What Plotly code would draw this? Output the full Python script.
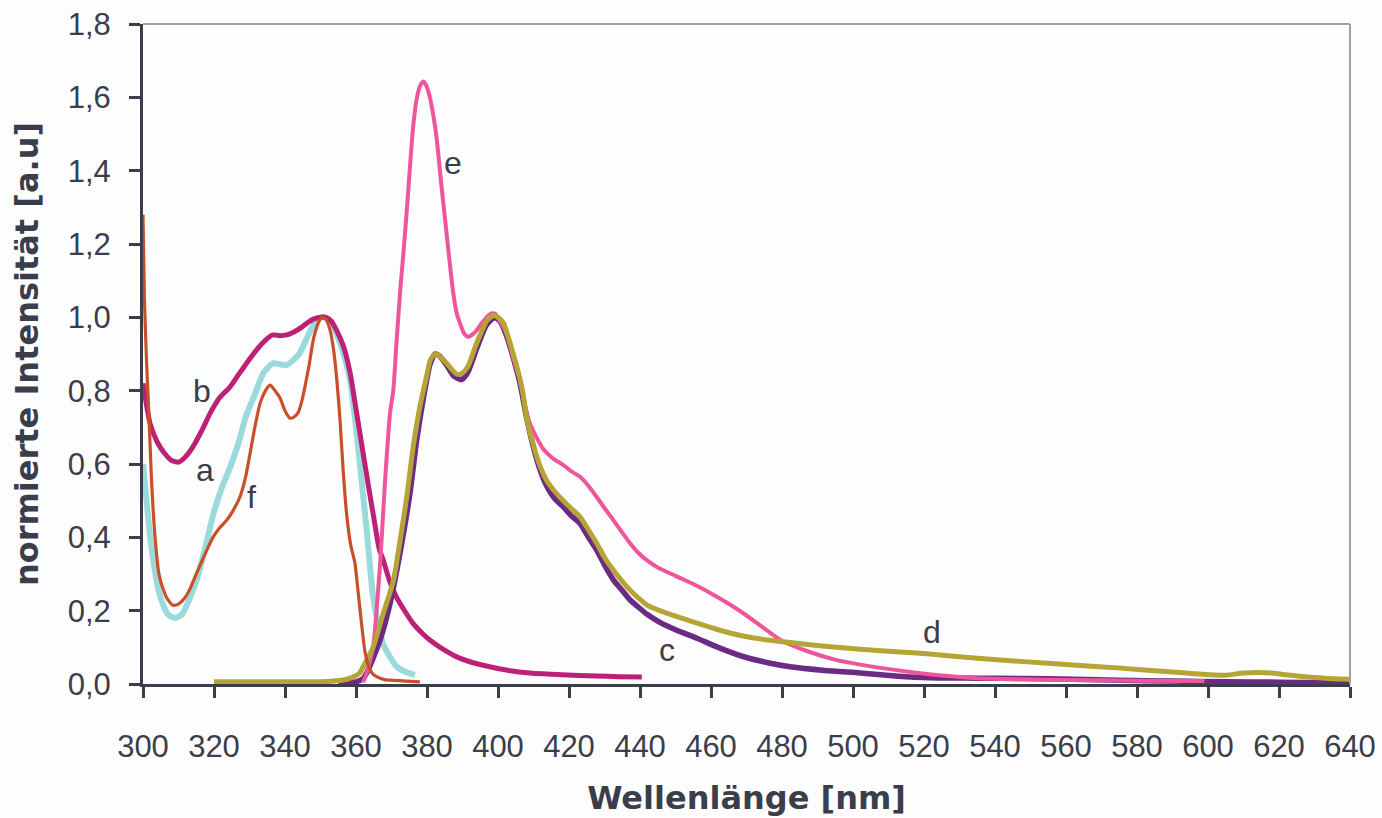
import plotly.graph_objects as go

# ---------------- data ----------------
a_x = [300, 301, 302.4, 304.8, 307, 309, 311, 313, 315, 317.5, 320, 322, 324.5, 327, 329, 331.5,
       334, 336.7, 338.5, 340.5, 342.5, 344, 346, 347.5, 349.5, 351, 352.5, 354.5, 356.5, 358.3,
       360, 361.1, 363, 364.8, 366.5, 367.6, 369.5, 371.5, 374, 376.6]
a_y = [0.60, 0.50, 0.37, 0.24, 0.19, 0.18, 0.19, 0.23, 0.28, 0.37, 0.47, 0.53, 0.59, 0.66, 0.73, 0.79,
       0.85, 0.875, 0.872, 0.87, 0.885, 0.90, 0.94, 0.97, 0.995, 1.0, 0.99, 0.955, 0.90, 0.83,
       0.70, 0.60, 0.42, 0.24, 0.15, 0.11, 0.075, 0.047, 0.033, 0.025]

b_x = [300, 301, 302, 304, 306, 308, 310, 312, 314, 316.5, 319, 321.5, 324.5, 327, 329.2, 331.5,
       334, 336.6, 338.5, 340.5, 342.5, 344.2, 346, 348, 350, 351.5, 353, 354.5, 356.5, 358.3,
       360, 362, 363.5, 364.8, 366.5, 367.6, 369.5, 371.5, 374, 376, 378.5, 380.8, 384.5, 388.4,
       393, 397.7, 403, 409, 418, 427.8, 434, 440.5]
b_y = [0.82, 0.76, 0.71, 0.66, 0.63, 0.61, 0.605, 0.62, 0.646, 0.69, 0.74, 0.78, 0.81, 0.845, 0.875, 0.905,
       0.933, 0.952, 0.95, 0.952, 0.96, 0.97, 0.983, 0.995, 1.0, 1.0, 0.99, 0.965, 0.92, 0.85,
       0.75, 0.63, 0.54, 0.466, 0.37, 0.34, 0.28, 0.235, 0.195, 0.166, 0.14, 0.12, 0.095, 0.074,
       0.058, 0.047, 0.037, 0.03, 0.025, 0.022, 0.02, 0.019]

c_x = [355, 360, 362, 363, 364.8, 366.8, 369.6, 372.4, 375.2, 377.1, 379, 380.8, 382.2, 383.5, 385.5,
       387.5, 389.7, 391.5, 394, 396.8, 399, 400.5, 402.4, 404.3, 406.2, 408, 410, 412, 413.7, 416,
       418.4, 420.5, 423.1, 425.5, 427.8, 430, 432.5, 435, 437.2, 439.5, 442, 445.6, 450, 456, 462,
       469, 476, 482.3, 492, 502, 512, 521.7, 535, 548, 562, 575, 590, 605, 620, 640]
c_y = [0.004, 0.006, 0.015, 0.03, 0.07, 0.12, 0.22, 0.357, 0.52, 0.665, 0.78, 0.87, 0.90, 0.895, 0.87,
       0.84, 0.83, 0.85, 0.915, 0.98, 1.0, 0.99, 0.95, 0.89, 0.82, 0.73, 0.645, 0.58, 0.54, 0.505,
       0.483, 0.46, 0.438, 0.40, 0.365, 0.325, 0.284, 0.255, 0.229, 0.21, 0.19, 0.168, 0.148, 0.125, 0.10,
       0.075, 0.058, 0.047, 0.037, 0.03, 0.022, 0.017, 0.016, 0.015, 0.013, 0.01, 0.008, 0.006, 0.005, 0.003]

d_x = [320, 340, 352, 356, 359, 361, 362, 364.8, 367.6, 370.5, 372.4, 374.3, 376.1, 378, 379.9, 381,
       382.3, 383.5, 385.5, 388.4, 390, 391.5, 394, 396.8, 398.7, 400, 401.5, 404.3, 406.7, 408.2,
       410, 412, 413.7, 416, 418.4, 420.7, 423.1, 425.5, 427.8, 430, 432.5, 435, 437.2, 439.5, 442,
       445.6, 450, 456, 462, 469, 476, 482.3, 492, 502, 512, 521.7, 535, 548, 562, 574.4, 588, 600.6,
       605, 610, 618, 622, 627, 633, 640]
d_y = [0.006, 0.006, 0.007, 0.01, 0.018, 0.03, 0.047, 0.10, 0.19, 0.28, 0.39, 0.51, 0.646, 0.756, 0.84, 0.885,
       0.90, 0.895, 0.875, 0.845, 0.848, 0.865, 0.93, 0.99, 1.005, 1.0, 0.985, 0.90, 0.81, 0.72,
       0.65, 0.59, 0.555, 0.525, 0.50, 0.478, 0.456, 0.42, 0.384, 0.345, 0.31, 0.28, 0.256, 0.235, 0.215,
       0.20, 0.185, 0.166, 0.148, 0.131, 0.12, 0.113, 0.103, 0.095, 0.088, 0.082, 0.07, 0.061, 0.052, 0.044, 0.034, 0.025,
       0.024, 0.03, 0.03, 0.025, 0.02, 0.016, 0.013]

e_x = [362, 363, 364.8, 366.8, 368.2, 369.6, 370.5, 371.4, 372.4, 373.4, 374.3, 375.2, 376.1, 377, 378,
       379, 379.9, 380.8, 381.8, 382.7, 384.1, 385.5, 386.5, 387.4, 388.4, 389.3, 390.5, 391.6, 393, 394,
       395.5, 396.8, 398, 399.2, 400.5, 402.4, 404.3, 406.2, 407.6, 409, 411, 412.8, 415.5, 418.4, 420.7,
       423.1, 425.5, 427.8, 430, 432.5, 435, 437.2, 439.5, 442, 445, 450, 456, 462.5, 469.1, 474.5,
       479.6, 487, 495.4, 505, 515, 525, 534.9, 548, 561, 580, 599]
e_y = [0.005, 0.03, 0.10, 0.33, 0.556, 0.74, 0.80, 0.93, 1.066, 1.18, 1.29, 1.41, 1.52, 1.59, 1.63,
       1.643, 1.63, 1.60, 1.55, 1.49, 1.356, 1.23, 1.14, 1.066, 1.01, 0.984, 0.955, 0.947, 0.955, 0.965,
       0.985, 1.0, 1.01, 1.01, 0.99, 0.956, 0.89, 0.83, 0.76, 0.71, 0.67, 0.64, 0.615, 0.597, 0.58,
       0.565, 0.54, 0.51, 0.48, 0.447, 0.413, 0.384, 0.358, 0.337, 0.318, 0.295, 0.268, 0.233, 0.193, 0.155,
       0.12, 0.09, 0.065, 0.048, 0.034, 0.023, 0.016, 0.013, 0.011, 0.009, 0.008]

f_x = [300, 300.4, 301, 301.6, 302.4, 303.4, 304.5, 305.8, 307, 308.5, 310, 311.8, 313.5, 315, 317.5,
       319.7, 321.5, 323.6, 325.5, 327.3, 328.8, 330, 331.5, 333, 334.5, 335.8, 337.2, 338.6, 340,
       341.4, 342.5, 343.7, 344.7, 345.6, 346.8, 348, 349.2, 350.3, 351.5, 352.7, 353.7, 354.6, 355.5,
       356.4, 357.4, 358.5, 359.7, 360.5, 361.5, 362.5, 363.5, 364.5, 365.8, 368, 370.5, 374, 378]
f_y = [1.28, 1.05, 0.88, 0.75, 0.556, 0.40, 0.30, 0.255, 0.23, 0.215, 0.218, 0.235, 0.265, 0.30, 0.355,
       0.40, 0.425, 0.447, 0.475, 0.51, 0.56, 0.62, 0.70, 0.766, 0.80, 0.815, 0.80, 0.78, 0.745,
       0.725, 0.728, 0.74, 0.77, 0.81, 0.87, 0.94, 0.98, 1.0, 0.995, 0.965, 0.91, 0.83, 0.72,
       0.58, 0.46, 0.38, 0.33, 0.26, 0.17, 0.09, 0.05, 0.03, 0.02, 0.012, 0.01, 0.008, 0.006]

series_names = ["a", "b", "c", "e", "d", "f"]
label_x = [317.5, 316.6, 447.6, 522.3, 387.3, 330.7]   # a, b, c, d, e, f
label_y = [0.584, 0.80, 0.093, 0.142, 1.42, 0.51]
label_t = ["a", "b", "c", "d", "e", "f"]

x_ticks = list(range(300, 641, 20))
y_ticks = [0.0, 0.2, 0.4, 0.6, 0.8, 1.0, 1.2, 1.4, 1.6, 1.8]

# ---------------- styling ----------------
TXT = "#3a3d4a"
styles = {
    "a": ("#9adadb", 6),
    "b": ("#bd2077", 5),
    "c": ("#6b2b84", 5.5),
    "d": ("#b5a536", 5),
    "e": ("#ee559b", 4),
    "f": ("#c94f2a", 3.2),
}
data = {"a": (a_x, a_y), "b": (b_x, b_y), "c": (c_x, c_y),
        "d": (d_x, d_y), "e": (e_x, e_y), "f": (f_x, f_y)}

fig = go.Figure()
for n in series_names:
    xs, ys = data[n]
    col, w = styles[n]
    fig.add_trace(go.Scatter(x=xs, y=ys, mode="lines", name=n,
                             line=dict(color=col, width=w, shape="spline", smoothing=0.6)))

for t, lx, ly in zip(label_t, label_x, label_y):
    fig.add_annotation(x=lx, y=ly, text=t, showarrow=False,
                       font=dict(family="Liberation Sans, Arial, sans-serif", size=32, color=TXT))

# top / right frame in grey
fig.add_shape(type="line", xref="paper", yref="paper", x0=0, x1=1, y0=1, y1=1,
              line=dict(color="#a59c9c", width=2))
fig.add_shape(type="line", xref="paper", yref="paper", x0=1, x1=1, y0=0, y1=1,
              line=dict(color="#a59c9c", width=2))

fig.update_layout(
    width=1382, height=818,
    margin=dict(l=143, r=32, t=24, b=134, autoexpand=False),
    paper_bgcolor="#fdfdfd", plot_bgcolor="#fdfdfd",
    separators=",.",
    showlegend=False,
    font=dict(family="Liberation Sans, Arial, sans-serif", color=TXT),
)
fig.update_xaxes(
    range=[300, 640], tickvals=x_ticks, ticktext=[str(v) for v in x_ticks],
    showgrid=False, zeroline=False, automargin=False,
    showline=True, linecolor="#3a3e4b", linewidth=3,
    ticks="outside", ticklen=11, tickwidth=3, tickcolor="#3a3e4b",
    tickfont=dict(size=31, color=TXT, family="Liberation Sans, Arial, sans-serif"),
    ticklabelstandoff=22,
    title=dict(text="Wellenlänge [nm]", standoff=24,
               font=dict(family="DejaVu Sans, sans-serif", size=32, color=TXT, weight="bold")),
)
fig.update_yaxes(
    range=[0, 1.8], tickvals=y_ticks, tickformat=".1f",
    showgrid=False, zeroline=False, automargin=False,
    showline=True, linecolor="#3a3e4b", linewidth=3,
    ticks="outside", ticklen=11, tickwidth=3, tickcolor="#3a3e4b",
    tickfont=dict(size=31, color=TXT, family="Liberation Sans, Arial, sans-serif"),
    ticklabelstandoff=12,
    title=dict(text="normierte Intensität [a.u]", standoff=20,
               font=dict(family="DejaVu Sans, sans-serif", size=32, color=TXT, weight="bold")),
)

fig.write_html("out.html")
